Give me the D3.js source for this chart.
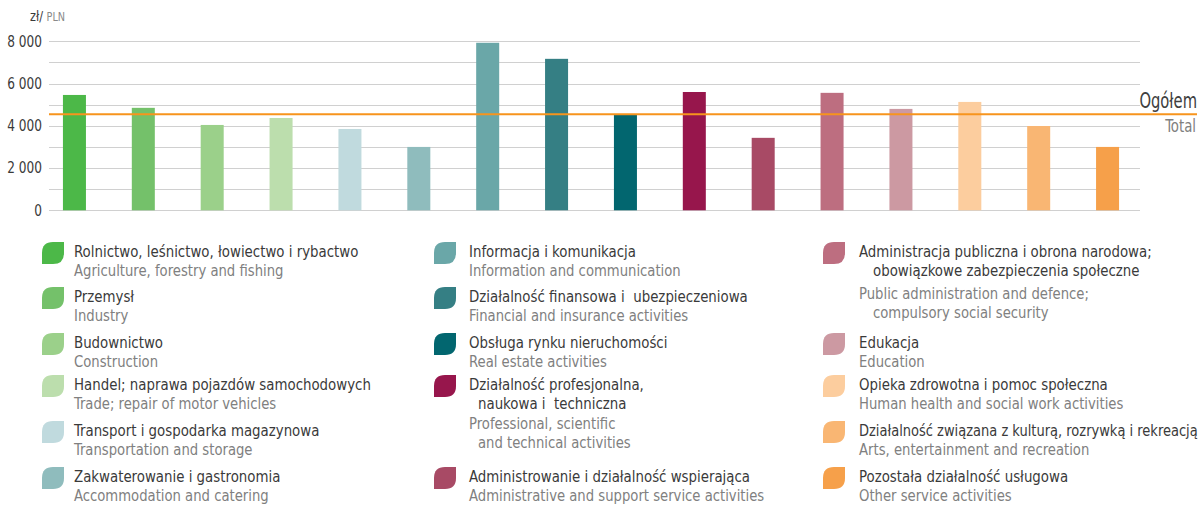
<!DOCTYPE html>
<html>
<head>
<meta charset="utf-8">
<script src="https://cdn.jsdelivr.net/npm/d3@7"></script>
<style>
  html, body { margin: 0; padding: 0; background: #fff; }
  svg { display: block; font-family: "Liberation Sans Narrow", "DejaVu Sans Condensed", "Arial Narrow", sans-serif; }
</style>
</head>
<body>
<svg id="chart" width="1202" height="505"></svg>
<script>
// ---------- DATA ----------
const categoriesPL = [
  ["Rolnictwo, leśnictwo, łowiectwo i rybactwo"],
  ["Przemysł"],
  ["Budownictwo"],
  ["Handel; naprawa pojazdów samochodowych"],
  ["Transport i gospodarka magazynowa"],
  ["Zakwaterowanie i gastronomia"],
  ["Informacja i komunikacja"],
  ["Działalność finansowa i  ubezpieczeniowa"],
  ["Obsługa rynku nieruchomości"],
  ["Działalność profesjonalna,", "naukowa i  techniczna"],
  ["Administrowanie i działalność wspierająca"],
  ["Administracja publiczna i obrona narodowa;", "obowiązkowe zabezpieczenia społeczne"],
  ["Edukacja"],
  ["Opieka zdrowotna i pomoc społeczna"],
  ["Działalność związana z kulturą, rozrywką i rekreacją"],
  ["Pozostała działalność usługowa"]
];
const categoriesEN = [
  ["Agriculture, forestry and fishing"],
  ["Industry"],
  ["Construction"],
  ["Trade; repair of motor vehicles"],
  ["Transportation and storage"],
  ["Accommodation and catering"],
  ["Information and communication"],
  ["Financial and insurance activities"],
  ["Real estate activities"],
  ["Professional, scientific", "and technical activities"],
  ["Administrative and support service activities"],
  ["Public administration and defence;", "compulsory social security"],
  ["Education"],
  ["Human health and social work activities"],
  ["Arts, entertainment and recreation"],
  ["Other service activities"]
];
const wages = [5460, 4850, 4040, 4370, 3850, 3000, 7930, 7170, 4560, 5600, 3430, 5560, 4800, 5130, 3990, 3000];
const totalWage = 4550;
const colors = ["#4cb848", "#74c16a", "#9bd08a", "#bcdead", "#c0dade", "#8fbcbd", "#6aa7a8", "#357f84",
                "#02666f", "#97164c", "#a84a65", "#bd6e80", "#cc99a2", "#fccd9e", "#f9b673", "#f6a04a"];
const yTicks = [0, 2000, 4000, 6000, 8000];
const gridTicks = [0, 1000, 2000, 3000, 4000, 5000, 6000, 7000, 8000];
const unitLabel = "zł/";
const unitLabelEN = "PLN";
const totalLabelPL = "Ogółem";
const totalLabelEN = "Total";

// ---------- LAYOUT ----------
const legendCol = [0,0,0,0,0,0, 1,1,1,1,1, 2,2,2,2,2];
const legendRow = [0,1,2,3,4,5, 0,1,2,3,5, 0,2,3,4,5];
const colIconX = [42, 434, 823];
const colTextX = [74, 469, 859];
const rowTop = [242, 287, 333, 375, 421, 467];
const indentSecond = [0,0,0,0,0,0, 0,0,0,9,0, 14,0,0,0,0];
const extraGap = [0,0,0,0,0,0, 0,0,0,1,0, 4,0,0,0,0];
const maxRight = 1198;

const svg = d3.select("#chart");
const fmt = d3.formatLocale({decimal: ",", thousands: " ", grouping: [3], currency: ["", " zł"]}).format(",d");

// narrowed text helper (keeps glyph height, condenses width; never runs past maxRight)
function ntext(parent, x0, y0, str, size, fill, sx, anchor) {
  const g = parent.append("g");
  const t = g.append("text").attr("x", 0).attr("y", 0)
    .attr("font-size", size).attr("fill", fill)
    .attr("text-anchor", anchor || "start")
    .style("white-space", "pre").text(str);
  if (!anchor || anchor === "start") {
    const w = t.node().getComputedTextLength();
    if (x0 + w * sx > maxRight) sx = (maxRight - x0) / w;
  }
  g.attr("transform", `translate(${x0},${y0}) scale(${sx},1)`);
  return t;
}

const x = d3.scaleBand()
  .domain(d3.range(wages.length))
  .range([40, 1142])
  .paddingInner(0.666)
  .paddingOuter(0.333);

const y = d3.scaleLinear().domain([0, 8000]).range([210.3, 41.3]);

// grid
svg.append("g").selectAll("line").data(gridTicks).join("line")
  .attr("x1", 49).attr("x2", 1140)
  .attr("y1", d => Math.round(y(d)) + 0.5).attr("y2", d => Math.round(y(d)) + 0.5)
  .attr("stroke", "#d0d0d0").attr("stroke-width", 1.2);

// y axis labels
const yAxis = d3.axisLeft(y).tickValues(yTicks).tickFormat(fmt).tickSize(0).tickPadding(0);
const ya = svg.append("g").attr("transform", "translate(42,0)").call(yAxis);
ya.select(".domain").remove();
ya.selectAll(".tick text")
  .attr("font-family", "Liberation Sans Narrow, DejaVu Sans Condensed, sans-serif")
  .attr("font-size", 15).attr("fill", "#3a3a3a")
  .attr("transform", "scale(0.9,1)");

// unit label
const unit = svg.append("g").attr("transform", "translate(30,21) scale(0.9,1)").append("text");
unit.append("tspan").attr("font-size", 14).attr("fill", "#3a3a3a").text(unitLabel);
unit.append("tspan").attr("font-size", 12).attr("fill", "#8a8a8a").attr("dx", 4).text(unitLabelEN);

// bars
svg.append("g").selectAll("rect").data(wages).join("rect")
  .attr("x", (d, i) => x(i))
  .attr("width", x.bandwidth())
  .attr("y", d => y(d))
  .attr("height", d => y(0) - y(d))
  .attr("fill", (d, i) => colors[i]);

// total line
svg.append("line")
  .attr("x1", 49).attr("x2", 1197)
  .attr("y1", y(totalWage)).attr("y2", y(totalWage))
  .attr("stroke", "#f7941d").attr("stroke-width", 2);

ntext(svg, 1197, y(totalWage) - 6, totalLabelPL, 20.5, "#404040", 0.8, "end");
ntext(svg, 1196, y(totalWage) + 18, totalLabelEN, 17, "#808080", 0.87, "end");

// legend
function leafPath(x0, y0, s, r) {
  return `M${x0},${y0 + s} L${x0},${y0 + r} Q${x0},${y0} ${x0 + r},${y0} L${x0 + s},${y0} L${x0 + s},${y0 + s - r} Q${x0 + s},${y0 + s} ${x0 + s - r},${y0 + s} Z`;
}
const leg = svg.append("g");
categoriesPL.forEach((pl, i) => {
  const c = legendCol[i];
  const top = rowTop[legendRow[i]];
  leg.append("path").attr("d", leafPath(colIconX[c], top, 22, 11)).attr("fill", colors[i]);
  let yy = top + 15;
  pl.forEach((line, k) => {
    ntext(leg, colTextX[c] + (k > 0 ? indentSecond[i] : 0), yy, line, 16.5, "#3a3a3a", 0.9);
    yy += 19;
  });
  yy += extraGap[i];
  categoriesEN[i].forEach((line, k) => {
    ntext(leg, colTextX[c] + (k > 0 ? indentSecond[i] : 0), yy, line, 16.5, "#808080", 0.89);
    yy += 19;
  });
});
</script>
</body>
</html>
